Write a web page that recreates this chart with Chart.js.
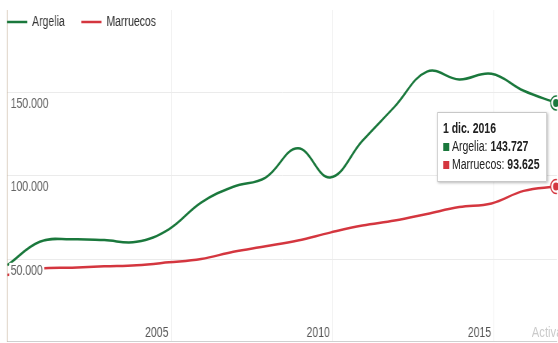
<!DOCTYPE html>
<html>
<head>
<meta charset="utf-8">
<script src="https://cdn.jsdelivr.net/npm/chart.js@4.4.0/dist/chart.umd.min.js"></script>
<style>
  html, body { margin: 0; padding: 0; background: #fff; overflow: hidden; width: 558px; height: 343px; }
  /* the reference is a horizontally squeezed screenshot: draw wide, then squeeze */
  #wrap { position: relative; width: 744px; height: 343px; transform: scaleX(0.75); transform-origin: 0 0; }
  #tip {
    position: absolute; background: #fff; border: 1px solid #c8c8c8;
    box-shadow: 1px 1px 3px rgba(0,0,0,0.28); padding: 6px 9px 8px 7px;
    font-family: Arial, 'Liberation Sans', sans-serif;
    font-size: 14px; color: #222; line-height: 18px; white-space: nowrap;
    pointer-events: none;
  }
  #tip .ttl { font-weight: bold; }
  #tip .sq { display: inline-block; width: 8px; height: 8px; margin-right: 4px; vertical-align: 0px; }
  #watermark {
    position: absolute; left: 709px; top: 323px; color: #cacaca; white-space: nowrap;
    font-family: Arial, 'Liberation Sans', sans-serif; font-size: 15px;
  }
</style>
</head>
<body>
<div id="wrap">
  <canvas id="lineChart" width="744" height="343"></canvas>
  <div id="watermark">Activar Windows</div>
</div>
<script>
// datos anuales (1 dic. de cada año)
const years = [1999, 2000, 2001, 2002, 2003, 2004, 2005, 2006, 2007, 2008,
               2009, 2010, 2011, 2012, 2013, 2014, 2015, 2016];
const argelia = [46500, 60500, 62000, 61500, 60500, 68000, 84000, 93500, 99000, 116500,
                 99000, 121000, 141500, 162500, 157800, 161200, 151000, 143727];
const marruecos = [40600, 44300, 45000, 45800, 46500, 48200, 50200, 54500, 57800, 61300,
                   66000, 70200, 73200, 77200, 81300, 83500, 91000, 93625];
const seriesNames = ['Argelia', 'Marruecos'];
const seriesColors = ['#1a783c', '#d4363f'];
const yTicks = [50000, 100000, 150000];
const xTicks = [2005, 2010, 2015];

const FONT = "Arial, 'Liberation Sans', sans-serif";

function fmt(v) {
  return Math.round(v).toString().replace(/\B(?=(\d{3})+(?!\d))/g, '.');
}

// fecha del punto: 1 de diciembre
const xVals = years.map(y => y + 11 / 12);

function toPoints(values) {
  return values.map((v, i) => ({ x: xVals[i], y: v }));
}

const datasets = [argelia, marruecos].map((vals, i) => ({
  label: seriesNames[i],
  data: toPoints(vals),
  borderColor: seriesColors[i],
  backgroundColor: seriesColors[i],
  borderWidth: 2.5,
  tension: 0.4,
  pointRadius: 0,
  pointHoverRadius: 7,
  pointHoverBackgroundColor: '#fff',
  pointHoverBorderColor: seriesColors[i],
  pointHoverBorderWidth: 1.5,
}));

// leyenda sobre el área, etiquetas de los ejes dentro del área, punto central de los marcadores activos
const extrasPlugin = {
  id: 'extras',
  afterDatasetsDraw(chart) {
    const { ctx, scales: { x, y }, chartArea } = chart;
    ctx.save();
    ctx.font = '14px ' + FONT;
    ctx.textBaseline = 'middle';

    // leyenda
    let lx = chartArea.left;
    chart.data.datasets.forEach(ds => {
      ctx.strokeStyle = ds.borderColor;
      ctx.lineWidth = 2.5;
      ctx.beginPath();
      ctx.moveTo(lx, 22);
      ctx.lineTo(lx + 27, 22);
      ctx.stroke();
      ctx.fillStyle = '#333';
      ctx.textAlign = 'left';
      ctx.fillText(ds.label, lx + 33.5, 22);
      lx += 33.5 + ctx.measureText(ds.label).width + 22;
    });

    // valores del eje y, con fondo blanco encima de las líneas
    yTicks.forEach(t => {
      const label = fmt(t);
      const ty = y.getPixelForValue(t) + 11.5;
      const tx = chartArea.left + 5;
      const w = ctx.measureText(label).width;
      ctx.fillStyle = '#fff';
      ctx.fillRect(tx - 2, ty - 8, w + 4, 16);
      ctx.fillStyle = '#666';
      ctx.textAlign = 'left';
      ctx.fillText(label, tx, ty);
    });

    // años
    ctx.fillStyle = '#555';
    ctx.textAlign = 'right';
    xTicks.forEach(t => {
      ctx.fillText(String(t), x.getPixelForValue(t) - 4, chartArea.bottom - 9);
    });

    chart.getActiveElements().forEach(a => {
      ctx.beginPath();
      ctx.fillStyle = seriesColors[a.datasetIndex];
      ctx.arc(a.element.x, a.element.y, 4, 0, Math.PI * 2);
      ctx.fill();
    });
    ctx.restore();
  }
};

function externalTip(context) {
  let el = document.getElementById('tip');
  if (!el) {
    el = document.createElement('div');
    el.id = 'tip';
    document.getElementById('wrap').appendChild(el);
  }
  const tt = context.tooltip;
  if (tt.opacity === 0) { el.style.display = 'none'; return; }
  const idx = tt.dataPoints[0].dataIndex;
  let html = '<div class="ttl">1 dic. ' + years[idx] + '</div>';
  tt.dataPoints.forEach(dp => {
    const c = seriesColors[dp.datasetIndex];
    html += '<div><span class="sq" style="background:' + c + '"></span>' +
      seriesNames[dp.datasetIndex] + ': <b>' + fmt(dp.parsed.y) + '</b></div>';
  });
  el.innerHTML = html;
  el.style.display = 'block';
  el.style.left = (tt.caretX - 13 - el.offsetWidth) + 'px';
  el.style.top = (tt.caretY - 33) + 'px';
}

const ctx = document.getElementById('lineChart').getContext('2d');
const chart = new Chart(ctx, {
  type: 'line',
  data: { datasets: datasets },
  plugins: [extrasPlugin],
  options: {
    responsive: false,
    animation: false,
    layout: { padding: { top: 10, left: 0, right: 0, bottom: 1 } },
    interaction: { mode: 'index', intersect: false },
    plugins: {
      legend: { display: false },
      tooltip: { enabled: false, external: externalTip }
    },
    scales: {
      x: {
        type: 'linear',
        min: 1999.9,
        max: 2016.95,
        afterBuildTicks: scale => { scale.ticks = xTicks.map(v => ({ value: v })); },
        ticks: { display: false },
        grid: { color: '#f0f0f0', drawTicks: false },
        border: { color: '#d0d0d0' }
      },
      y: {
        min: 600,
        max: 199400,
        afterBuildTicks: scale => { scale.ticks = yTicks.map(v => ({ value: v })); },
        afterFit: scale => {
          scale.width = 9.3;
          scale.paddingTop = 0;
          scale.paddingBottom = 0;
        },
        ticks: { display: false },
        grid: { color: '#ebebeb', drawTicks: false },
        border: { color: '#cbb9a4' }
      }
    }
  }
});

// punto activo: último dato (1 dic. 2016)
const last = years.length - 1;
const active = [{ datasetIndex: 0, index: last }, { datasetIndex: 1, index: last }];
chart.setActiveElements(active);
chart.tooltip.setActiveElements(active, { x: 0, y: 0 });
chart.update();
</script>
</body>
</html>
